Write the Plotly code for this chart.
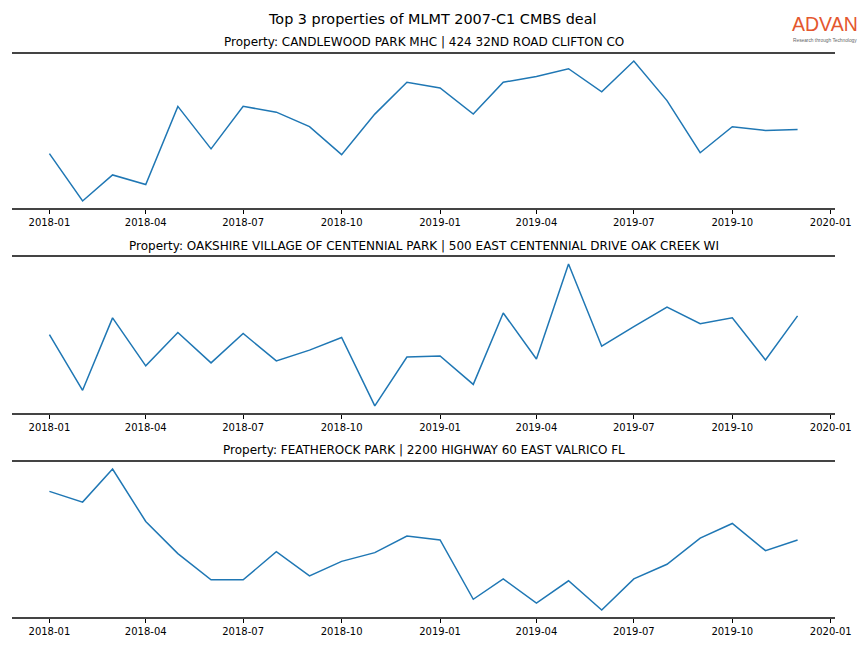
import plotly.graph_objects as go

months = [f"{y}-{m:02d}-01" for y in (2018, 2019) for m in range(1, 13)]

titles = [
    "Property: CANDLEWOOD PARK MHC | 424 32ND ROAD CLIFTON CO",
    "Property: OAKSHIRE VILLAGE OF CENTENNIAL PARK | 500 EAST CENTENNIAL DRIVE OAK CREEK WI",
    "Property: FEATHEROCK PARK | 2200 HIGHWAY 60 EAST VALRICO FL",
]

candlewood = [65, 16, 43, 33, 114, 70, 114, 108, 93, 64, 106, 139,
              133, 106, 139, 145, 153, 129, 161, 120, 66, 93, 89, 90]
oakshire = [85, 28, 102, 53, 87, 56, 86, 58, 69, 82, 12, 62,
            63, 34, 107, 60, 157, 73, 93, 113, 96, 102, 59, 104]
featherock = [130, 119, 153, 99, 66, 39, 39, 68, 43, 58, 67, 84,
              80, 19, 40, 15, 38, 8, 40, 55, 82, 97, 69, 80]

series = [candlewood, oakshire, featherock]

tick_vals = ["2018-01-01", "2018-04-01", "2018-07-01", "2018-10-01",
             "2019-01-01", "2019-04-01", "2019-07-01", "2019-10-01", "2020-01-01"]
tick_text = ["2018-01", "2018-04", "2018-07", "2018-10",
             "2019-01", "2019-04", "2019-07", "2019-10", "2020-01"]

W, H = 864, 648
x0, x1 = 12, 835
panels_px = [(54, 208), (257, 413), (462, 617)]
title_px = [42, 246, 450]

fig = go.Figure()
layout = dict(
    width=W, height=H, autosize=False,
    margin=dict(l=0, r=0, t=0, b=0, pad=0),
    paper_bgcolor="white", plot_bgcolor="white",
    showlegend=False,
    font=dict(family="DejaVu Sans", color="black"),
    annotations=[],
)

for i, (vals, (top, bot)) in enumerate(zip(series, panels_px)):
    n = "" if i == 0 else str(i + 1)
    fig.add_trace(go.Scatter(x=months, y=vals, mode="lines",
                             line=dict(color="#1f77b4", width=1.5),
                             xaxis="x" + n, yaxis="y" + n))
    lo, hi = min(vals), max(vals)
    pad = (hi - lo) * 0.05
    layout["xaxis" + n] = dict(
        domain=[x0 / W, x1 / W], anchor="y" + n, type="date",
        range=["2017-11-27 01:00", "2020-01-04 23:00"],
        tickvals=tick_vals, ticktext=tick_text,
        ticks="outside", ticklen=4, tickwidth=1, tickcolor="black",
        tickfont=dict(size=10, color="black", family="DejaVu Sans"),
        showline=True, mirror=True, linecolor="#444444", linewidth=2,
        showgrid=False, zeroline=False, automargin=False,
    )
    layout["yaxis" + n] = dict(
        domain=[1 - bot / H, 1 - top / H], anchor="x" + n,
        range=[lo - pad, hi + pad],
        showticklabels=False, ticks="", showgrid=False, zeroline=False,
        showline=False, automargin=False,
    )
    layout["annotations"].append(dict(
        text=titles[i], x=(x0 + x1) / 2 / W, y=1 - title_px[i] / H,
        xref="paper", yref="paper", xanchor="center", yanchor="middle",
        showarrow=False, font=dict(size=12, color="black", family="DejaVu Sans"),
    ))

layout["annotations"].append(dict(
    text="Top 3 properties of MLMT 2007-C1 CMBS deal", x=0.5, y=1 - 19 / H,
    xref="paper", yref="paper", xanchor="center", yanchor="middle",
    showarrow=False, font=dict(size=14.4, color="black", family="DejaVu Sans"),
))
layout["annotations"].append(dict(
    text="ADVAN", x=824.5 / W, y=1 - 37 / H,
    xref="paper", yref="paper", xanchor="center", yanchor="bottom",
    showarrow=False, font=dict(size=19.5, color="#e4572e", family="Liberation Sans"),
))
layout["annotations"].append(dict(
    text="Research through Technology", x=824.5 / W, y=1 - 36 / H,
    xref="paper", yref="paper", xanchor="center", yanchor="top",
    showarrow=False, font=dict(size=4.8, color="#666666", family="Liberation Sans"),
))

fig.update_layout(**layout)
fig.write_html(
    "out.html",
    config={"responsive": False, "displayModeBar": False},
    post_script=(
        "document.body.style.margin='0';"
        "document.body.style.overflow='hidden';"
    ),
)
